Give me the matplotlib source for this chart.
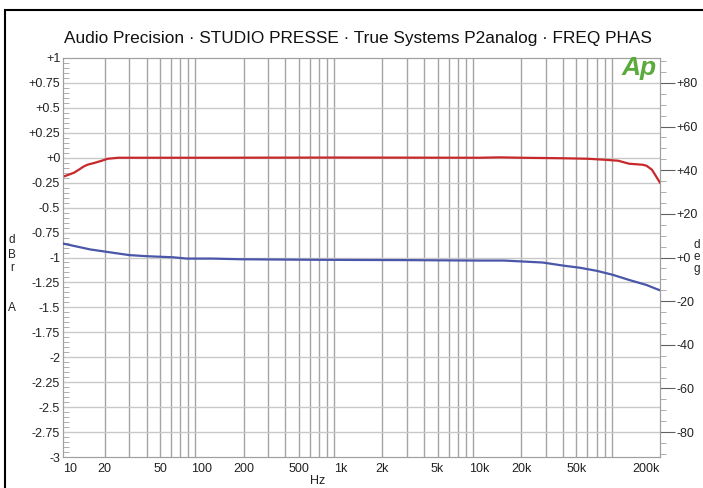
import numpy as np
import matplotlib.pyplot as plt
from matplotlib.patches import Rectangle
from matplotlib.ticker import FixedLocator, MultipleLocator, NullFormatter

plt.rcParams['font.family'] = ['Liberation Sans', 'DejaVu Sans']

# level curve (red, left axis, dBrA)
freq_lvl = [10, 11, 12, 13, 14, 15, 17, 19, 21, 23, 25, 30, 50, 100, 1000,
            10000, 14000, 20000, 40000, 60000, 80000, 100000, 120000, 150000,
            160000, 175000, 190000, 200000]
level_db = [-0.19, -0.17, -0.15, -0.12, -0.09, -0.07, -0.05, -0.03, -0.01,
            -0.005, 0, 0, 0, 0, 0.002, 0.0, 0.004, 0, -0.005, -0.01, -0.02,
            -0.03, -0.06, -0.07, -0.08, -0.12, -0.2, -0.25]

# phase curve (blue, right axis, deg)
freq_ph = [10, 12, 15.7, 20.6, 30, 40, 62, 78, 120, 188, 500, 1000, 3000,
           10000, 15000, 28600, 40000, 53000, 70000, 91000, 120000, 160000,
           190000, 200000]
phase_deg = [6.4, 5.3, 3.7, 2.6, 1.1, 0.6, 0.1, -0.5, -0.5, -0.8, -1.0, -1.1,
             -1.2, -1.4, -1.4, -2.3, -3.7, -4.7, -6.1, -7.9, -10.3, -12.6,
             -14.5, -15.0]

x_ticks = [10, 20, 50, 100, 200, 500, 1000, 2000, 5000, 10000, 20000, 50000, 200000]
x_labels = ['10', '20', '50', '100', '200', '500', '1k', '2k', '5k', '10k', '20k', '50k', '200k']
db_ticks = [1, 0.75, 0.5, 0.25, 0, -0.25, -0.5, -0.75, -1, -1.25, -1.5, -1.75,
            -2, -2.25, -2.5, -2.75, -3]
db_labels = ['+1', '+0.75', '+0.5', '+0.25', '+0', '-0.25', '-0.5', '-0.75', '-1',
             '-1.25', '-1.5', '-1.75', '-2', '-2.25', '-2.5', '-2.75', '-3']
deg_ticks = [80, 60, 40, 20, 0, -20, -40, -60, -80]
deg_labels = ['+80', '+60', '+40', '+20', '+0', '-20', '-40', '-60', '-80']

fig = plt.figure(figsize=(7.03, 4.88), dpi=100)
ax = fig.add_axes([63/703, 1-457/488, (660-63)/703, (457-58)/488])
ax2 = ax.twinx()

gcol = '#a0a0a0'
ax.set_xscale('log')
ax.set_xlim(10, 200000)
ax.set_ylim(-3, 1)
ax2.set_ylim(-91.4, 91.4)

# grid
vlines = [m * 10**d for d in range(1, 6) for m in range(2, 10) if m * 10**d < 200000]
for v in vlines:
    ax.axvline(v, color='#a4a4a4', lw=1.0, zorder=1)
for h in db_ticks[1:-1]:
    ax.axhline(h, color='#c8c8c8', lw=1.0, zorder=1)

ax.plot(freq_lvl, level_db, color='#c8282a', lw=1.6, zorder=3)
ax2.plot(freq_ph, phase_deg, color='#4a56a8', lw=1.6, zorder=3)

for a in (ax, ax2):
    for s in a.spines.values():
        s.set_color(gcol)

ax.xaxis.set_major_locator(FixedLocator(x_ticks))
ax.xaxis.set_minor_locator(FixedLocator([]))
ax.set_xticklabels(x_labels)
ax.tick_params(axis='x', which='both', length=0, labelsize=9, pad=4, labelcolor='#222222')
tl = ax.get_xticklabels()
tl[0].set_ha('left')
tl[-1].set_ha('right')

ax.yaxis.set_major_locator(FixedLocator(db_ticks))
ax.set_yticklabels(db_labels)
ax.yaxis.set_minor_locator(MultipleLocator(0.05))
ax.tick_params(axis='y', which='major', length=0, labelsize=9, pad=2, labelcolor='#222222')
ax.tick_params(axis='y', which='minor', direction='in', length=4, color=gcol)

ax2.yaxis.set_major_locator(FixedLocator(deg_ticks))
ax2.set_yticklabels(deg_labels)
ax2.yaxis.set_minor_locator(MultipleLocator(5))
ax2.tick_params(axis='y', which='major', direction='out', length=11, color='#606060',
                labelsize=9, pad=1, labelcolor='#222222')
ax2.tick_params(axis='y', which='minor', direction='out', length=4, color=gcol)

# titles and axis names
fig.text(358/703, 1-38/488, 'Audio Precision \u00b7 STUDIO PRESSE \u00b7 True Systems P2analog \u00b7 FREQ PHAS',
         ha='center', va='center', fontsize=12.4, color='#111111')
fig.text(318/703, 1-481/488, 'Hz', ha='center', va='center', fontsize=9, color='#222222')
for ch, yy in zip(['d', 'B', 'r', 'A'], [240, 255, 268, 308]):
    fig.text(12/703, 1-yy/488, ch, ha='center', va='center', fontsize=8.5, color='#222222')
fig.text(697/703, 1-257/488, 'd\ne\ng', ha='center', va='center', fontsize=8.5,
         color='#222222', linespacing=0.95)
fig.text(639/703, 1-68/488, 'Ap', ha='center', va='center', fontsize=19,
         fontweight='bold', fontstyle='italic', color='#5aaa3c')

# outer frame (left and top edges visible)
fig.add_artist(Rectangle((5/703, -0.01), 1.1, 1-10/488 + 0.01, transform=fig.transFigure,
                         fill=False, edgecolor='black', lw=1.5))

fig.savefig('out.png', dpi=100)
